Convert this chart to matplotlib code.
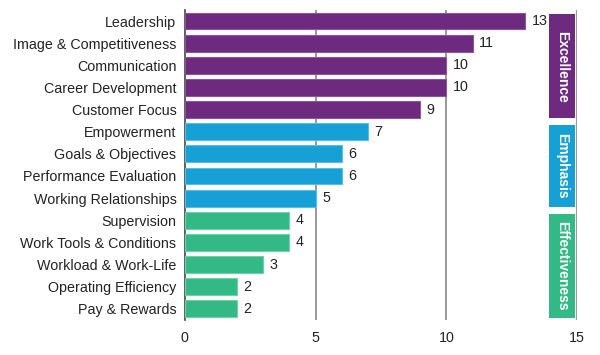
import matplotlib
matplotlib.use('Agg')
from matplotlib import pyplot as plt
from matplotlib.patches import Rectangle


categories = ['Leadership', 'Image & Competitiveness', 'Communication', 'Career Development',
              'Customer Focus', 'Empowerment', 'Goals & Objectives', 'Performance Evaluation',
              'Working Relationships', 'Supervision', 'Work Tools & Conditions',
              'Workload & Work-Life', 'Operating Efficiency', 'Pay & Rewards']
values = [13, 11, 10, 10, 9, 7, 6, 6, 5, 4, 4, 3, 2, 2]
groups = ['Excellence'] * 5 + ['Emphasis'] * 4 + ['Effectiveness'] * 5
group_names = ['Excellence', 'Emphasis', 'Effectiveness']
x_ticks = [0, 5, 10, 15]

colors = {'Excellence': '#6d2a7e', 'Emphasis': '#17a0d5', 'Effectiveness': '#33b985'}
edges = {'Excellence': '#8a559a', 'Emphasis': '#58bde3', 'Effectiveness': '#6fd0aa'}

plt.rcParams['font.family'] = ['Liberation Sans', 'DejaVu Sans']

fig = plt.figure(figsize=(6, 3.55), dpi=100)
ax = fig.add_axes([0.308, 0.099, 0.654, 0.873])

y = list(range(len(categories)))
ax.barh(y, values, height=0.76, color=[colors[g] for g in groups],
        edgecolor=[edges[g] for g in groups], linewidth=0.8, zorder=3)

for yi, v in zip(y, values):
    ax.text(v + 0.25, yi, str(v), va='center', ha='left', fontsize=10.3, color='#222222', zorder=4)

# group boxes on the right
for name in group_names:
    idx = [i for i, g in enumerate(groups) if g == name]
    top, bottom = idx[0] - 0.3, idx[-1] + 0.4
    ax.add_patch(Rectangle((13.92, top), 1.0, bottom - top, facecolor=colors[name],
                           edgecolor='none', zorder=3))
    ax.text(14.42, (top + bottom) / 2, name, rotation=-90, ha='center', va='center',
            color='white', fontsize=10, fontweight='bold', zorder=4)

ax.set_xlim(0, 15)
ax.set_ylim(len(categories) - 0.5, -0.5)
ax.set_yticks(y)
ax.set_yticklabels(categories, fontsize=10.3, color='#222222')
ax.set_xticks(x_ticks)
ax.set_xticklabels([str(t) for t in x_ticks], fontsize=10.3, color='#222222')
ax.tick_params(axis='both', length=0)
ax.tick_params(axis='y', pad=6)
ax.tick_params(axis='x', pad=8)

for t in x_ticks[1:]:
    ax.axvline(t, color='#888888', linewidth=1.2, zorder=1)

for s in ['top', 'right', 'bottom']:
    ax.spines[s].set_visible(False)
ax.spines['left'].set_color('#444444')
ax.spines['left'].set_linewidth(1.2)

fig.savefig('out.png', dpi=100)
